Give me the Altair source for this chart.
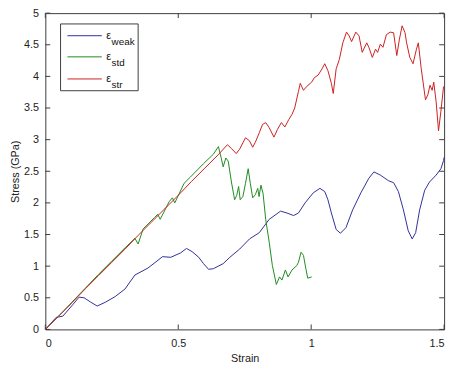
import altair as alt
import pandas as pd

# ---- data ----
series_names = ["weak", "std", "str"]
series_colors = ["#2e2e99", "#1f8a1f", "#cc1f1f"]

weak_points = [(0, 0), (0.041, 0.19), (0.066, 0.21), (0.103, 0.39), (0.127, 0.51), (0.146, 0.50),
               (0.171, 0.43), (0.195, 0.37), (0.226, 0.43), (0.263, 0.52), (0.300, 0.64), (0.337, 0.86),
               (0.386, 0.97), (0.441, 1.15), (0.472, 1.14), (0.509, 1.21), (0.531, 1.28), (0.552, 1.23),
               (0.577, 1.14), (0.595, 1.04), (0.614, 0.95), (0.632, 0.96), (0.669, 1.04), (0.694, 1.14),
               (0.731, 1.27), (0.768, 1.43), (0.805, 1.53), (0.842, 1.74), (0.885, 1.87), (0.909, 1.84),
               (0.934, 1.80), (0.952, 1.84), (0.977, 2.00), (1.008, 2.16), (1.033, 2.23), (1.051, 2.18),
               (1.063, 2.05), (1.076, 1.84), (1.094, 1.58), (1.110, 1.52), (1.131, 1.61), (1.156, 1.89),
               (1.187, 2.16), (1.217, 2.39), (1.236, 2.49), (1.260, 2.44), (1.291, 2.35), (1.310, 2.32),
               (1.328, 2.18), (1.347, 1.89), (1.365, 1.56), (1.380, 1.43), (1.393, 1.53), (1.408, 1.89),
               (1.427, 2.20), (1.445, 2.33), (1.470, 2.44), (1.488, 2.54), (1.498, 2.67), (1.5, 2.72)]

std_points = [(0, 0), (0.05, 0.21), (0.1, 0.43), (0.15, 0.65), (0.2, 0.87), (0.25, 1.08), (0.3, 1.29),
              (0.337, 1.44), (0.349, 1.35), (0.368, 1.59), (0.411, 1.77), (0.423, 1.82), (0.432, 1.74),
              (0.466, 2.02), (0.478, 2.08), (0.487, 2.00), (0.522, 2.31), (0.546, 2.41), (0.595, 2.62),
              (0.632, 2.77), (0.651, 2.89), (0.661, 2.72), (0.669, 2.57), (0.679, 2.71), (0.688, 2.66),
              (0.700, 2.33), (0.712, 2.05), (0.720, 2.12), (0.727, 2.26), (0.733, 2.05), (0.743, 2.10),
              (0.753, 2.31), (0.763, 2.54), (0.771, 2.31), (0.780, 2.08), (0.790, 2.13), (0.799, 2.23),
              (0.804, 2.10), (0.811, 2.28), (0.819, 2.15), (0.829, 1.74), (0.842, 1.38), (0.854, 1.01),
              (0.869, 0.71), (0.881, 0.83), (0.890, 0.78), (0.903, 0.94), (0.913, 0.83), (0.928, 0.94),
              (0.946, 1.01), (0.952, 1.06), (0.962, 1.22), (0.971, 1.17), (0.980, 0.96), (0.987, 0.81),
              (1.002, 0.83)]

str_points = [(0, 0), (0.05, 0.21), (0.1, 0.42), (0.15, 0.64), (0.2, 0.85), (0.25, 1.06), (0.3, 1.27),
              (0.35, 1.49), (0.4, 1.70), (0.45, 1.91), (0.5, 2.12), (0.55, 2.34), (0.6, 2.55), (0.65, 2.76),
              (0.685, 2.92), (0.70, 2.86), (0.718, 2.78), (0.731, 2.85), (0.753, 3.03), (0.768, 2.98),
              (0.780, 2.88), (0.790, 2.96), (0.805, 3.11), (0.817, 3.24), (0.829, 3.27), (0.842, 3.19),
              (0.860, 3.04), (0.873, 3.16), (0.888, 3.27), (0.901, 3.20), (0.916, 3.32), (0.928, 3.40),
              (0.938, 3.50), (0.952, 3.76), (0.959, 3.89), (0.971, 3.78), (0.983, 3.84), (1.002, 3.91),
              (1.012, 3.98), (1.026, 4.02), (1.041, 4.12), (1.051, 4.20), (1.063, 4.09), (1.076, 3.89),
              (1.083, 3.73), (1.094, 4.12), (1.106, 4.27), (1.119, 4.53), (1.133, 4.70), (1.143, 4.64),
              (1.152, 4.55), (1.168, 4.70), (1.180, 4.64), (1.192, 4.38), (1.209, 4.53), (1.217, 4.46),
              (1.230, 4.30), (1.242, 4.43), (1.250, 4.38), (1.260, 4.51), (1.270, 4.46), (1.283, 4.66),
              (1.297, 4.70), (1.310, 4.69), (1.322, 4.33), (1.332, 4.59), (1.342, 4.80), (1.353, 4.69),
              (1.359, 4.53), (1.371, 4.30), (1.383, 4.20), (1.396, 4.43), (1.403, 4.53), (1.414, 4.12),
              (1.430, 3.63), (1.439, 3.71), (1.447, 3.86), (1.455, 3.78), (1.461, 3.91), (1.470, 3.60),
              (1.479, 3.14), (1.488, 3.45), (1.498, 3.84)]

x_ticks = [0, 0.5, 1, 1.5]
y_ticks = [0, 0.5, 1, 1.5, 2, 2.5, 3, 3.5, 4, 4.5, 5]

# ---- build table ----
rows = []
for name, pts in zip(series_names, [weak_points, std_points, str_points]):
    for i, (x, y) in enumerate(pts):
        rows.append({"series": name, "i": i, "x": x, "y": y})
df = pd.DataFrame(rows)

W, H = 406, 322
FONT = "Liberation Sans"
AX = "#3c3c3c"


def X(field="x"):
    return alt.X(f"{field}:Q", scale=alt.Scale(domain=[0, 1.5], nice=False, zero=False),
                 axis=alt.Axis(values=x_ticks, title="Strain", grid=False, ticks=False, tickSize=0,
                               domain=False, labelPadding=8, titlePadding=5, format="~g",
                               labelFont=FONT, titleFont=FONT, labelFontSize=11, titleFontSize=11,
                               labelColor="#222", titleColor="#222", titleFontWeight="normal"))


def Y(field="y"):
    return alt.Y(f"{field}:Q", scale=alt.Scale(domain=[0, 5], nice=False, zero=False),
                 axis=alt.Axis(values=y_ticks, title="Stress (GPa)", grid=False, ticks=False, tickSize=0,
                               domain=False, labelPadding=7, titlePadding=3, format="~g",
                               labelFont=FONT, titleFont=FONT, labelFontSize=11, titleFontSize=11,
                               labelColor="#222", titleColor="#222", titleFontWeight="normal"))


lines = alt.Chart(df).mark_line(strokeWidth=1, interpolate="linear").encode(
    x=X(), y=Y(),
    color=alt.Color("series:N", scale=alt.Scale(domain=series_names, range=series_colors), legend=None),
    detail="series:N",
    order="i:Q",
)

ydf = pd.DataFrame({"y": y_ticks})
xdf = pd.DataFrame({"x": x_ticks})
tick_len = 5
left_t = alt.Chart(ydf).mark_rule(color=AX, strokeWidth=1).encode(
    y=Y(), x=alt.value(0), x2=alt.value(tick_len))
right_t = alt.Chart(ydf).mark_rule(color=AX, strokeWidth=1).encode(
    y=Y(), x=alt.value(W - tick_len), x2=alt.value(W))
bot_t = alt.Chart(xdf).mark_rule(color=AX, strokeWidth=1).encode(
    x=X(), y=alt.value(H), y2=alt.value(H - tick_len))
top_t = alt.Chart(xdf).mark_rule(color=AX, strokeWidth=1).encode(
    x=X(), y=alt.value(0), y2=alt.value(tick_len))

# ---- manual legend (subscripted epsilon labels) ----
leg_df = pd.DataFrame({"series": series_names})
legend_box = alt.Chart(leg_df.head(1)).mark_rect(fill="white", stroke=AX, strokeWidth=1).encode(
    x=alt.value(15.5), x2=alt.value(94.5), y=alt.value(11), y2=alt.value(79))
legend_layers = [legend_box]
row_y = [23, 44.5, 67]
for k, name in enumerate(series_names):
    one = leg_df[leg_df.series == name]
    legend_layers.append(alt.Chart(one).mark_rule(color=series_colors[k], strokeWidth=1).encode(
        x=alt.value(22.5), x2=alt.value(57.5), y=alt.value(row_y[k])))
    legend_layers.append(alt.Chart(one).mark_text(text="ε", font=FONT, fontSize=11, color="#111",
                                                  align="left", baseline="middle").encode(
        x=alt.value(62), y=alt.value(row_y[k])))
    legend_layers.append(alt.Chart(one).mark_text(font=FONT, fontSize=10, color="#111",
                                                  align="left", baseline="middle").encode(
        text="series:N", x=alt.value(67.5), y=alt.value(row_y[k] + 6)))

chart = alt.layer(left_t, right_t, bot_t, top_t, lines, *legend_layers).properties(
    width=W, height=H,
    background="white",
    autosize=alt.AutoSizeParams(type="none"),
    padding={"left": 38, "top": 2, "right": 6, "bottom": 33},
).configure_view(stroke=AX, strokeWidth=1)

chart.save("out.html", embed_options={"renderer": "svg", "actions": False})
